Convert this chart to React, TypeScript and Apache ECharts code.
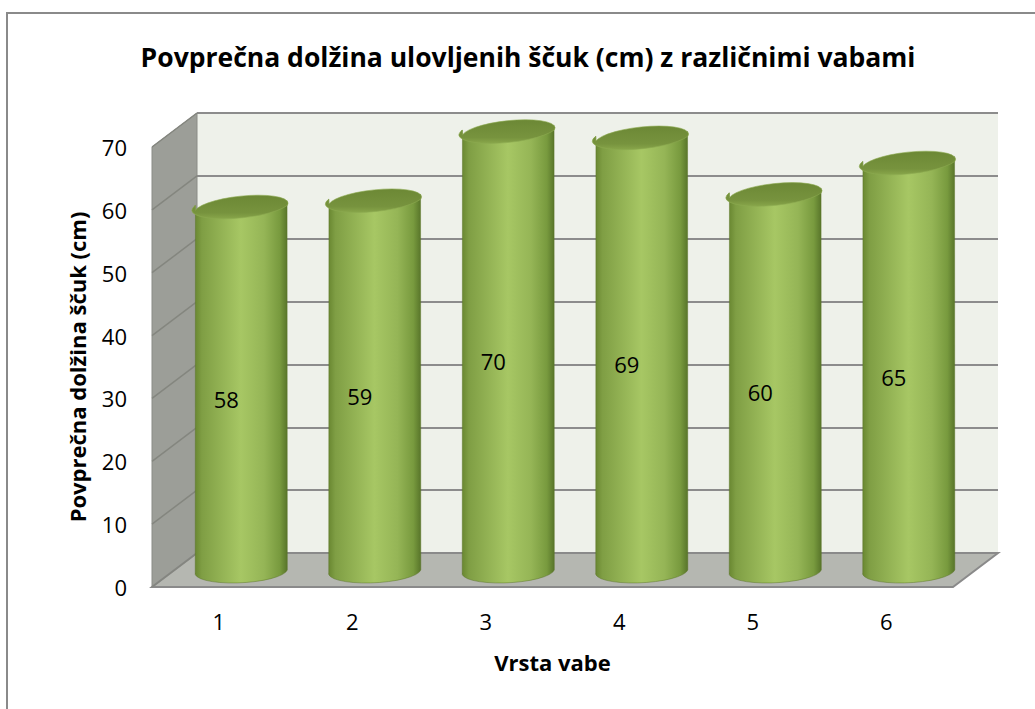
import React, { useEffect, useRef } from 'react';
import * as echarts from 'echarts';

const categories = ['1', '2', '3', '4', '5', '6'];
const values = [58, 59, 70, 69, 60, 65];
const yTicks = [0, 10, 20, 30, 40, 50, 60, 70];

const TITLE = 'Povprečna dolžina ulovljenih ščuk (cm) z različnimi vabami';
const X_NAME = 'Vrsta vabe';
const Y_NAME = 'Povprečna dolžina ščuk (cm)';

const W = 1035;
const H = 709;
const BACK = { left: 197, top: 113, width: 801, height: 440 };
const DX = -45;
const DY = 34;
const FONT = '"Open Sans", "Noto Sans", sans-serif';
const Y_MIN = 0;
const Y_MAX = 70;
const Y_STEP = 10;

const deg = Math.PI / 180;

function App() {
  const ref = useRef<HTMLDivElement>(null);

  useEffect(() => {
    if (!ref.current) return;
    const chart = echarts.init(ref.current, null, { renderer: 'svg' });

    const bodyFill = new echarts.graphic.LinearGradient(0, 0, 1, 0, [
      { offset: 0, color: '#67852f' },
      { offset: 0.08, color: '#7f9e44' },
      { offset: 0.5, color: '#a7c764' },
      { offset: 0.75, color: '#95b556' },
      { offset: 0.92, color: '#789a3e' },
      { offset: 1, color: '#58752a' },
    ]);
    const topFill = new echarts.graphic.LinearGradient(0, 0, 0, 1, [
      { offset: 0, color: '#6c8835' },
      { offset: 0.75, color: '#77933e' },
      { offset: 1, color: '#88a64a' },
    ]);

    const grids = [
      { left: BACK.left, top: BACK.top, width: BACK.width, height: BACK.height, show: true, backgroundColor: '#eef1ea', borderWidth: 0 },
      { left: BACK.left + DX, top: BACK.top + DY, width: BACK.width, height: BACK.height, show: false },
      { left: BACK.left + DX / 2, top: BACK.top + DY / 2, width: BACK.width, height: BACK.height, show: false },
    ];

    const option: any = {
      animation: false,
      grid: grids,
      graphic: [
        {
          type: 'rect',
          shape: { x: 7, y: 13, width: W + 20, height: H + 20 },
          style: { fill: 'none', stroke: '#8a8a8a', lineWidth: 2 },
          z: -5,
        },
        {
          type: 'text',
          x: 528,
          y: 57,
          style: {
            text: TITLE,
            align: 'center',
            verticalAlign: 'middle',
            fontFamily: FONT,
            fontWeight: 'bold',
            fontSize: 26.5,
            fill: '#000',
          },
        },
      ],
      xAxis: [
        { type: 'category', data: categories, gridIndex: 0, show: false },
        {
          type: 'category',
          data: categories,
          gridIndex: 1,
          axisLine: { show: false },
          axisTick: { show: false },
          axisLabel: { margin: 23, fontSize: 22, fontFamily: FONT, color: '#000' },
          name: X_NAME,
          nameLocation: 'middle',
          nameGap: 64,
          nameTextStyle: { fontSize: 22, fontWeight: 'bold', fontFamily: FONT, color: '#000' },
        },
        { type: 'category', data: categories, gridIndex: 2, show: false },
      ],
      yAxis: [
        {
          type: 'value', gridIndex: 0, min: Y_MIN, max: Y_MAX, interval: Y_STEP,
          axisLine: { show: false }, axisTick: { show: false }, axisLabel: { show: false },
          splitLine: { show: true, lineStyle: { color: '#8c8c8c', width: 2 } },
        },
        {
          type: 'value', gridIndex: 1, min: Y_MIN, max: Y_MAX, interval: Y_STEP,
          axisLine: { show: false }, axisTick: { show: false }, splitLine: { show: false },
          axisLabel: { margin: 25, fontSize: 22, fontFamily: FONT, color: '#000' },
          name: Y_NAME,
          nameLocation: 'middle',
          nameGap: 64,
          nameTextStyle: { fontSize: 22, fontWeight: 'bold', fontFamily: FONT, color: '#000' },
        },
        {
          type: 'value', gridIndex: 2, min: Y_MIN, max: Y_MAX, interval: Y_STEP, show: false,
        },
      ],
      series: [
        {
          type: 'custom',
          name: 'walls',
          xAxisIndex: 0,
          yAxisIndex: 0,
          z: 1,
          silent: true,
          data: [[0, 0]],
          renderItem: (params: any, api: any) => {
            const cs = params.coordSys;
            const x0 = cs.x, y0 = cs.y, x1 = cs.x + cs.width, y1 = cs.y + cs.height;
            return {
              type: 'group',
              children: [
                {
                  type: 'polygon',
                  shape: { points: [[x0, y0], [x0, y1], [x0 + DX, y1 + DY], [x0 + DX, y0 + DY]] },
                  style: { fill: '#9c9e98', stroke: '#8a8c86', lineWidth: 1 },
                },
                {
                  type: 'polygon',
                  shape: { points: [[x0, y1], [x1, y1], [x1 + DX, y1 + DY], [x0 + DX, y1 + DY]] },
                  style: { fill: '#b5b7b1', stroke: '#8a8a8a', lineWidth: 2 },
                },
              ],
            };
          },
        },
        {
          type: 'custom',
          name: 'sideGrid',
          xAxisIndex: 0,
          yAxisIndex: 0,
          z: 2,
          silent: true,
          data: yTicks.map((v) => [0, v]),
          renderItem: (params: any, api: any) => {
            const cs = params.coordSys;
            const y = api.coord([0, api.value(1)])[1];
            return {
              type: 'line',
              shape: { x1: cs.x, y1: y, x2: cs.x + DX, y2: y + DY },
              style: { stroke: '#84867f', lineWidth: 1.5 },
            };
          },
        },
        {
          type: 'custom',
          name: 'cylinders',
          xAxisIndex: 2,
          yAxisIndex: 2,
          z: 3,
          data: values.map((v, i) => [i, v]),
          renderItem: (params: any, api: any) => {
            const i = api.value(0);
            const v = api.value(1);
            const topP = api.coord([i, v]);
            const baseP = api.coord([i, 0]);
            const midP = api.coord([i, v / 2]);
            const w = api.size([1, 0])[0];
            const rx = w * 0.345;
            const ry = 11.5;
            const cx = topP[0];
            const ty = topP[1];
            const by = baseP[1];
            const tA = -6;
            const bA = -3;
            const tcx = rx * Math.cos(tA * deg), tsy = rx * Math.sin(tA * deg);
            const bcx = rx * Math.cos(bA * deg), bsy = rx * Math.sin(bA * deg);
            const L = [cx - tcx, ty - tsy];
            const R = [cx + tcx, ty + tsy];
            const BL = [cx - bcx, by - bsy];
            const BR = [cx + bcx, by + bsy];
            const body =
              `M${L[0]} ${L[1]} L${BL[0]} ${BL[1]} ` +
              `A${rx} ${ry} ${bA} 0 0 ${BR[0]} ${BR[1]} ` +
              `L${R[0]} ${R[1]} A${rx} ${ry} ${tA} 0 1 ${L[0]} ${L[1]} Z`;
            const top =
              `M${L[0]} ${L[1]} A${rx} ${ry} ${tA} 0 1 ${R[0]} ${R[1]} ` +
              `A${rx} ${ry} ${tA} 0 1 ${L[0]} ${L[1]} Z`;
            return {
              type: 'group',
              children: [
                { type: 'path', shape: { pathData: body }, style: { fill: bodyFill, stroke: 'rgba(90,115,40,0.6)', lineWidth: 0.8 } },
                { type: 'path', shape: { pathData: top }, style: { fill: topFill, stroke: 'rgba(140,170,80,0.6)', lineWidth: 1 } },
                {
                  type: 'text',
                  x: cx - 15,
                  y: midP[1] + DY / 2 - 6,
                  style: {
                    text: String(v),
                    align: 'center',
                    verticalAlign: 'middle',
                    fontSize: 22,
                    fontFamily: FONT,
                    fill: '#000',
                  },
                },
              ],
            };
          },
        },
      ],
    };

    chart.setOption(option);
    return () => chart.dispose();
  }, []);

  return (
    <div
      ref={ref}
      style={{ position: 'fixed', left: 0, top: 0, width: W, height: H, background: '#fff' }}
    />
  );
}

export default App;
